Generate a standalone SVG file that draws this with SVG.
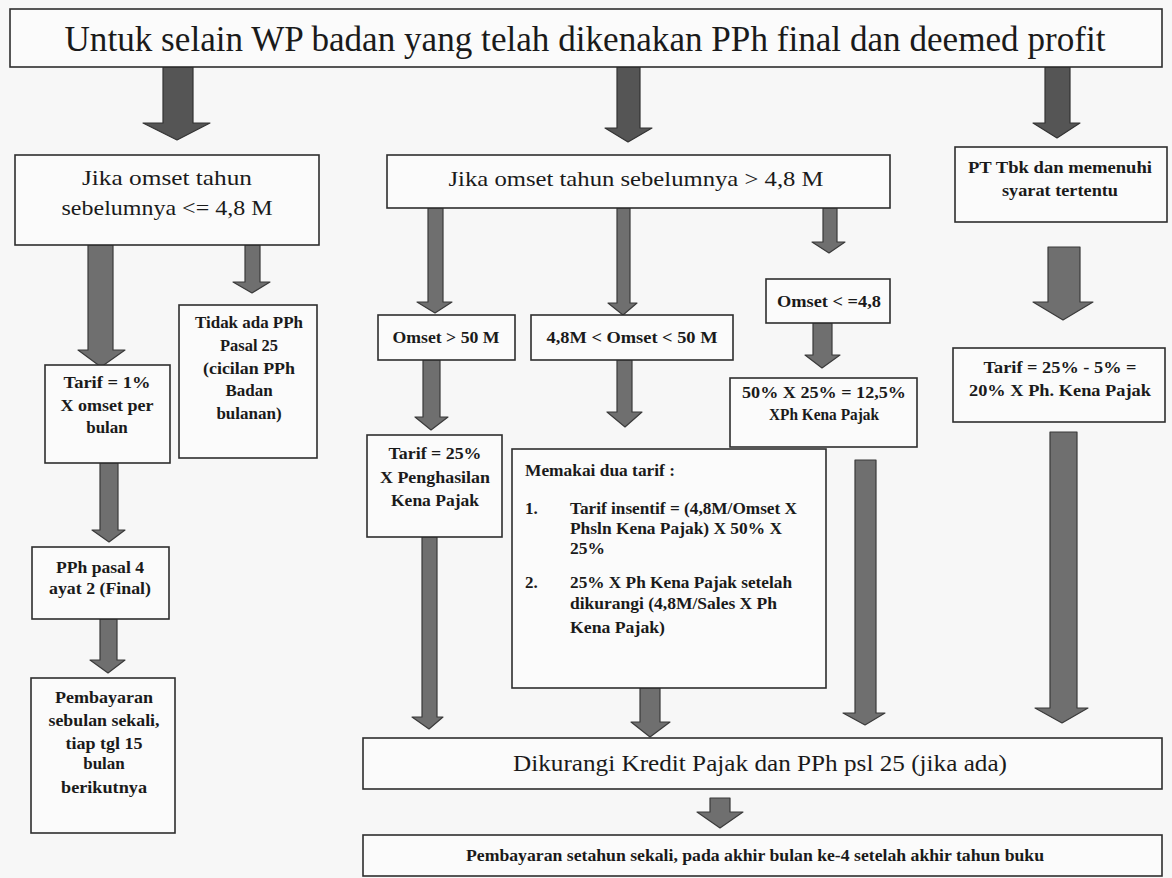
<svg xmlns="http://www.w3.org/2000/svg" width="1172" height="878" viewBox="0 0 1172 878">
<defs>
<style>
.box{fill:#fbfbfb;stroke:#2e2e2e;stroke-width:1.6}
.arr{fill:#6f6f6f;stroke:#3a3a3a;stroke-width:1.2;stroke-linejoin:round}
.arrd{fill:#555;stroke:#333;stroke-width:1.2;stroke-linejoin:round}
text{font-family:'Liberation Serif','Times New Roman',serif;fill:#1a1a1a}
.b{font-weight:bold;font-size:17px}
.c{text-anchor:middle}
</style>
</defs>
<rect x="0" y="0" width="1172" height="878" fill="#f7f7f7"/>

<g id="connectors">
<path class="arrd" d="M163 67H193V123H210L177 140L143 123H163Z"/>
<path class="arrd" d="M617 67H640V128H652L628 142L605 128H617Z"/>
<path class="arrd" d="M1045 67H1070V123H1080L1057 138L1033 123H1045Z"/>
<path class="arr" d="M88 245H113V350H125L101 367L78 350H88Z"/>
<path class="arr" d="M245 245H260V282H270L252 293L233 282H245Z"/>
<path class="arr" d="M100 463H118V530H125L109 542L92 530H100Z"/>
<path class="arr" d="M100 619H117V660H125L108 673L90 660H100Z"/>
<path class="arr" d="M428 208H443V302H452L435 313L417 302H428Z"/>
<path class="arr" d="M617 208H630V303H637L623 315L608 303H617Z"/>
<path class="arr" d="M823 208H837V242H845L829 253L812 242H823Z"/>
<path class="arr" d="M423 360H440V417H448L431 430L415 417H423Z"/>
<path class="arr" d="M617 360H632V412H642L625 427L607 412H617Z"/>
<path class="arr" d="M813 323H832V355H840L822 368L805 355H813Z"/>
<path class="arr" d="M422 537H437V717H443L429 729L412 717H422Z"/>
<path class="arr" d="M640 688H660V722H670L650 737L631 722H640Z"/>
<path class="arr" d="M855 460H876V713H885L865 725L843 713H855Z"/>
<path class="arr" d="M1050 432H1077V708H1088L1062 723L1035 708H1050Z"/>
<path class="arr" d="M1048 247H1080V302H1093L1063 320L1033 302H1048Z"/>
<path class="arr" d="M710 798H730V812H743L720 828L697 812H710Z"/>
</g>

<g id="title">
<rect class="box" x="10" y="9" width="1152" height="58"/>
<text class="c" x="585" y="51" font-size="36" textLength="1041" lengthAdjust="spacingAndGlyphs">Untuk selain WP badan yang telah dikenakan PPh final dan deemed profit</text>
</g>

<g id="left-cond">
<rect class="box" x="15" y="155" width="304" height="90"/>
<text class="c" x="167" y="185" font-size="22" textLength="170" lengthAdjust="spacingAndGlyphs">Jika omset tahun</text>
<text class="c" x="167" y="215" font-size="22" textLength="211" lengthAdjust="spacingAndGlyphs">sebelumnya &lt;= 4,8 M</text>
</g>

<g id="tarif1">
<rect class="box" x="45" y="365" width="125" height="98"/>
<text class="b c" x="107" y="388" textLength="87" lengthAdjust="spacingAndGlyphs">Tarif = 1%</text>
<text class="b c" x="107" y="411" textLength="93" lengthAdjust="spacingAndGlyphs">X omset per</text>
<text class="b c" x="107" y="433">bulan</text>
</g>

<g id="tidak-ada">
<rect class="box" x="179" y="305" width="138" height="153"/>
<text class="b c" x="249" y="328" textLength="108" lengthAdjust="spacingAndGlyphs">Tidak ada PPh</text>
<text class="b c" x="249" y="351" textLength="58" lengthAdjust="spacingAndGlyphs">Pasal 25</text>
<text class="b c" x="249" y="374" textLength="92" lengthAdjust="spacingAndGlyphs">(cicilan PPh</text>
<text class="b c" x="249" y="396">Badan</text>
<text class="b c" x="249" y="419">bulanan)</text>
</g>

<g id="pph4">
<rect class="box" x="32" y="547" width="137" height="72"/>
<text class="b c" x="100" y="573" textLength="88" lengthAdjust="spacingAndGlyphs">PPh pasal 4</text>
<text class="b c" x="100" y="594" textLength="102" lengthAdjust="spacingAndGlyphs">ayat 2 (Final)</text>
</g>

<g id="pembayaran-bulan">
<rect class="box" x="31" y="678" width="144" height="155"/>
<text class="b c" x="104" y="703" textLength="98" lengthAdjust="spacingAndGlyphs">Pembayaran</text>
<text class="b c" x="104" y="726" textLength="111" lengthAdjust="spacingAndGlyphs">sebulan sekali,</text>
<text class="b c" x="104" y="749" textLength="77" lengthAdjust="spacingAndGlyphs">tiap tgl 15</text>
<text class="b c" x="104" y="769">bulan</text>
<text class="b c" x="104" y="793" textLength="86" lengthAdjust="spacingAndGlyphs">berikutnya</text>
</g>

<g id="mid-cond">
<rect class="box" x="387" y="155" width="503" height="53"/>
<text class="c" x="636" y="186" font-size="21" textLength="375" lengthAdjust="spacingAndGlyphs">Jika omset tahun sebelumnya &gt; 4,8 M</text>
</g>

<g id="omset50">
<rect class="box" x="378" y="315" width="137" height="45"/>
<text class="b c" x="446" y="343" textLength="107" lengthAdjust="spacingAndGlyphs">Omset &gt; 50 M</text>
</g>

<g id="omset-range">
<rect class="box" x="531" y="315" width="202" height="45"/>
<text class="b c" x="632" y="343" textLength="171" lengthAdjust="spacingAndGlyphs">4,8M &lt; Omset &lt; 50 M</text>
</g>

<g id="omset48">
<rect class="box" x="766" y="279" width="124" height="44"/>
<text class="b c" x="829" y="307" textLength="104" lengthAdjust="spacingAndGlyphs">Omset &lt; =4,8</text>
</g>

<g id="tarif-125">
<rect class="box" x="730" y="378" width="187" height="69"/>
<text class="b c" x="824" y="398" textLength="164" lengthAdjust="spacingAndGlyphs">50% X 25% = 12,5%</text>
<text class="b c" x="824" y="420" textLength="110" lengthAdjust="spacingAndGlyphs">XPh Kena Pajak</text>
</g>

<g id="tarif25">
<rect class="box" x="367" y="435" width="135" height="102"/>
<text class="b c" x="435" y="459" textLength="93" lengthAdjust="spacingAndGlyphs">Tarif = 25%</text>
<text class="b c" x="435" y="483" textLength="110" lengthAdjust="spacingAndGlyphs">X Penghasilan</text>
<text class="b c" x="435" y="506" textLength="88" lengthAdjust="spacingAndGlyphs">Kena Pajak</text>
</g>

<g id="dua-tarif">
<rect class="box" x="512" y="449" width="314" height="239"/>
<text class="b" x="525" y="476" textLength="150" lengthAdjust="spacingAndGlyphs">Memakai dua tarif :</text>
<text class="b" x="525" y="514">1.</text>
<text class="b" x="570" y="514" textLength="227" lengthAdjust="spacingAndGlyphs">Tarif insentif = (4,8M/Omset X</text>
<text class="b" x="570" y="534" textLength="212" lengthAdjust="spacingAndGlyphs">Phsln Kena Pajak) X 50% X</text>
<text class="b" x="570" y="554" textLength="35" lengthAdjust="spacingAndGlyphs">25%</text>
<text class="b" x="525" y="588">2.</text>
<text class="b" x="570" y="588" textLength="222" lengthAdjust="spacingAndGlyphs">25% X Ph Kena Pajak setelah</text>
<text class="b" x="570" y="609" textLength="207" lengthAdjust="spacingAndGlyphs">dikurangi (4,8M/Sales X Ph</text>
<text class="b" x="570" y="633" textLength="95" lengthAdjust="spacingAndGlyphs">Kena Pajak)</text>
</g>

<g id="pt-tbk">
<rect class="box" x="955" y="147" width="212" height="75"/>
<text class="b c" x="1060" y="173" textLength="184" lengthAdjust="spacingAndGlyphs">PT Tbk dan memenuhi</text>
<text class="b c" x="1060" y="196" textLength="116" lengthAdjust="spacingAndGlyphs">syarat tertentu</text>
</g>

<g id="tarif20">
<rect class="box" x="953" y="348" width="212" height="74"/>
<text class="b c" x="1060" y="373" textLength="153" lengthAdjust="spacingAndGlyphs">Tarif = 25% - 5% =</text>
<text class="b c" x="1060" y="396" textLength="182" lengthAdjust="spacingAndGlyphs">20% X Ph. Kena Pajak</text>
</g>

<g id="dikurangi">
<rect class="box" x="363" y="738" width="799" height="51"/>
<text class="c" x="760" y="771" font-size="24" textLength="494" lengthAdjust="spacingAndGlyphs">Dikurangi Kredit Pajak dan PPh psl 25 (jika ada)</text>
</g>

<g id="pembayaran-tahun">
<rect class="box" x="363" y="835" width="799" height="41"/>
<text class="b c" x="755" y="861" font-size="16" textLength="578" lengthAdjust="spacingAndGlyphs">Pembayaran setahun sekali, pada akhir bulan ke-4 setelah akhir tahun buku</text>
</g>
</svg>
